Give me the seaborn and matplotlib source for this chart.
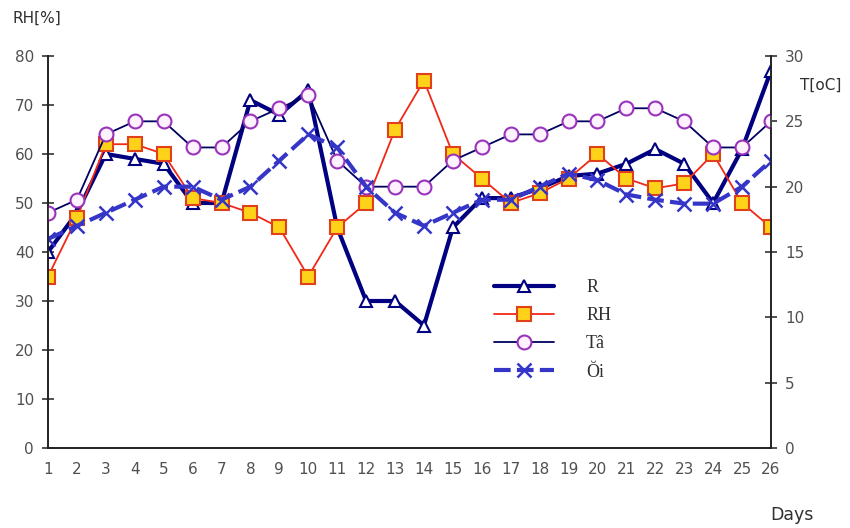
import matplotlib
matplotlib.use("Agg")
import matplotlib.pyplot as plt
import seaborn as sns
import pandas as pd

# Daily observations, days 1..26
days = list(range(1, 27))
rain_r = [40, 48, 60, 59, 58, 50, 50, 71, 68, 73, 45, 30, 30, 25, 45, 51, 51, 53, 55.5, 56,
          58, 61, 58, 50, 61, 77]
humidity_rh = [35, 47, 62, 62, 60, 51, 50, 48, 45, 35, 45, 50, 65, 75, 60, 55, 50, 52, 55, 60,
               55, 53, 54, 60, 50, 45]
temp_ta = [18, 19, 24, 25, 25, 23, 23, 25, 26, 27, 22, 20, 20, 20, 22, 23, 24, 24, 25, 25,
           26, 26, 25, 23, 23, 25]
temp_oi = [16, 17, 18, 19, 20, 20, 19, 20, 22, 24, 23, 20, 18, 17, 18, 19, 19, 20, 21, 20.5,
           19.4, 19, 18.7, 18.7, 20, 22]

left_ticks = list(range(0, 81, 10))
right_ticks = list(range(0, 31, 5))

df = pd.DataFrame({"day": days, "R": rain_r, "RH": humidity_rh, "Tâ": temp_ta, "Ŏi": temp_oi})

sns.set_theme(style="white")
plt.rcParams["font.family"] = ["DejaVu Sans"]

fig = plt.figure(figsize=(8.5, 5.28), dpi=100)
ax = fig.add_axes([48 / 850, 1 - 448 / 528, (771 - 48) / 850, (448 - 56) / 528])
ax2 = ax.twinx()

sns.lineplot(data=df, x="day", y="R", ax=ax, color="#000080", linewidth=3.0,
             marker="^", markersize=9, markerfacecolor="white", markeredgecolor="#000080",
             markeredgewidth=1.5, label="R", legend=False)
sns.lineplot(data=df, x="day", y="RH", ax=ax, color="#F02818", linewidth=1.3,
             marker="s", markersize=10, markerfacecolor="#FFD21A", markeredgecolor="#E0401A",
             markeredgewidth=1.5, label="RH", legend=False)
sns.lineplot(data=df, x="day", y="Tâ", ax=ax2, color="#000060", linewidth=1.3,
             marker="o", markersize=10, markerfacecolor="#FFF2FF", markeredgecolor="#9933BB",
             markeredgewidth=1.5, label="Tâ", legend=False)
sns.lineplot(data=df, x="day", y="Ŏi", ax=ax2, color="#3535C8", linewidth=3.0,
             dashes=(4, 1.5), marker="x", markersize=10, markeredgecolor="#3535C8",
             markeredgewidth=1.8, label="Ŏi", legend=False)

ax.set_xlim(1, 26)
ax.set_ylim(0, 80)
ax2.set_ylim(0, 30)
ax.set_xticks(days)
ax.set_yticks(left_ticks)
ax2.set_yticks(right_ticks)
ax.set_xlabel("")
ax.set_ylabel("")
ax2.set_ylabel("")

tick_color = "#505050"
for a in (ax, ax2):
    a.tick_params(direction="inout", length=8, width=1.1, color="#222222",
                  labelsize=11, labelcolor=tick_color)
    a.spines["top"].set_visible(False)
    for s in ("left", "right", "bottom"):
        a.spines[s].set_color("#222222")
        a.spines[s].set_linewidth(1.2)
    a.grid(False)
ax.tick_params(axis="x", pad=6)
ax.tick_params(axis="y", pad=6)
ax2.tick_params(axis="y", pad=6)

fig.text(12 / 850, 1 - 18 / 528, "RH[%]", fontsize=11, color="#303030", va="center", ha="left")
fig.text(800 / 850, 1 - 85 / 528, "T[oC]", fontsize=11, color="#303030", va="center", ha="left")
fig.text(770 / 850, 1 - 515 / 528, "Days", fontsize=12.5, color="#303030", va="center", ha="left")

handles = ax.get_lines()[:2] + ax2.get_lines()[:2]
leg = fig.legend(handles, ["R", "RH", "Tâ", "Ŏi"], loc="upper left",
                 bbox_to_anchor=(494 / 850, 1 - 279 / 528), frameon=False,
                 handlelength=3.3, handletextpad=1.8, labelspacing=0.62,
                 borderpad=0, borderaxespad=0,
                 prop={"family": "Liberation Serif", "size": 13})
for t in leg.get_texts():
    t.set_color("#303030")

fig.savefig("out.png", dpi=100)
